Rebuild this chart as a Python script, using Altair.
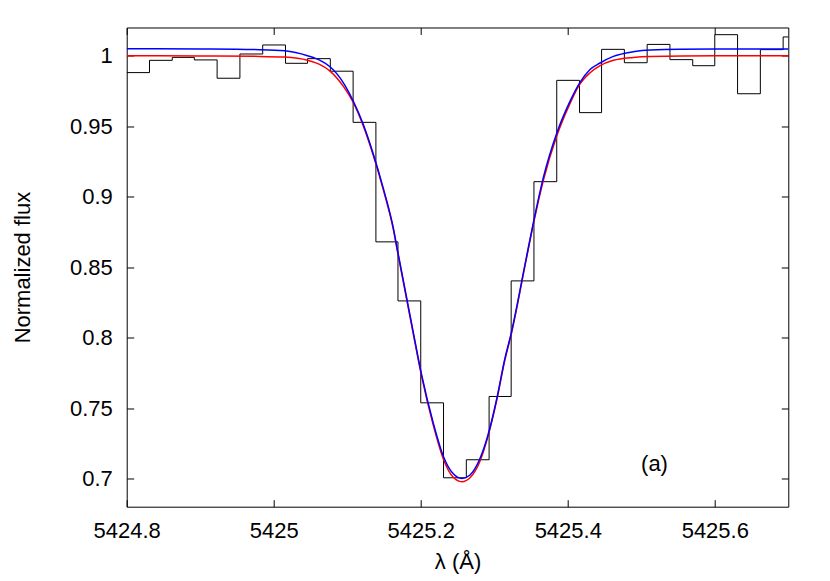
import altair as alt
import pandas as pd

# Observed spectrum: left edge of each pixel bin (Angstrom) and normalized flux
bin_start = [5424.800, 5424.831, 5424.862, 5424.892, 5424.923, 5424.954, 5424.985,
             5425.016, 5425.046, 5425.077, 5425.108, 5425.139, 5425.169, 5425.200,
             5425.231, 5425.262, 5425.293, 5425.323, 5425.354, 5425.385, 5425.416,
             5425.446, 5425.477, 5425.508, 5425.539, 5425.570, 5425.600, 5425.631,
             5425.662, 5425.693]
obs_flux = [0.988, 0.9967, 0.9988, 0.997, 0.984, 1.0012, 1.0076, 0.9946, 0.9979,
            0.989, 0.9527, 0.8679, 0.826, 0.7537, 0.7005, 0.7133, 0.7582, 0.8402,
            0.9106, 0.9825, 0.9596, 1.0045, 0.995, 1.008, 0.9972, 0.9929, 1.0149,
            0.973, 1.0043, 1.0133]

# Model profiles
model_wl = [5424.800, 5424.900, 5424.981, 5425.015, 5425.046, 5425.063, 5425.077,
            5425.095, 5425.108, 5425.122, 5425.135, 5425.149, 5425.163, 5425.168,
            5425.189, 5425.201, 5425.217, 5425.231, 5425.244, 5425.256, 5425.267,
            5425.280, 5425.291, 5425.304, 5425.314, 5425.323, 5425.343, 5425.353,
            5425.367, 5425.385, 5425.403, 5425.416, 5425.430, 5425.444, 5425.462,
            5425.489, 5425.512, 5425.600, 5425.700]
red_flux = [1.000, 0.9998, 0.9995, 0.999, 0.9967, 0.9936, 0.9889, 0.978, 0.967,
            0.950, 0.930, 0.905, 0.876, 0.862, 0.805, 0.773, 0.738, 0.7135, 0.701,
            0.6977, 0.7005, 0.7115, 0.729, 0.757, 0.783, 0.802, 0.854, 0.880, 0.912,
            0.943, 0.966, 0.9794, 0.9877, 0.9929, 0.9967, 0.9988, 0.9995, 1.000, 1.000]
blue_flux = [1.005, 1.0048, 1.0043, 1.0035, 1.000, 0.9967, 0.992, 0.9806, 0.968,
             0.951, 0.931, 0.906, 0.877, 0.863, 0.806, 0.774, 0.7395, 0.7155, 0.7035,
             0.700, 0.7025, 0.7135, 0.730, 0.758, 0.784, 0.803, 0.855, 0.881, 0.914,
             0.945, 0.9676, 0.9806, 0.990, 0.9948, 0.9995, 1.0028, 1.004, 1.0047, 1.0048]

x_ticks = [5424.8, 5425.0, 5425.2, 5425.4, 5425.6]
y_ticks = [0.7, 0.75, 0.8, 0.85, 0.9, 0.95, 1.0]
x_domain = [5424.8, 5425.7]
y_domain = [0.68, 1.02]

panel_label = "(a)"
panel_pos = (5425.518, 0.71)

FONT = "Liberation Sans"
W, H = 661.6, 479.2

# step table (step-after needs the closing edge of the last bin)
step_wl = bin_start + [bin_start[-1] + (bin_start[-1] - bin_start[-2])]
step_fl = obs_flux + [obs_flux[-1]]
df_obs = pd.DataFrame({"wl": step_wl, "flux": step_fl})
df_red = pd.DataFrame({"wl": model_wl, "flux": red_flux})
df_blue = pd.DataFrame({"wl": model_wl, "flux": blue_flux})
df_txt = pd.DataFrame({"wl": [panel_pos[0]], "flux": [panel_pos[1]], "t": [panel_label]})

xs = alt.Scale(domain=x_domain, nice=False, zero=False)
ys = alt.Scale(domain=y_domain, nice=False, zero=False)

common_axis = dict(offset=-7, tickSize=7, domain=False, grid=False, tickColor="black",
                   tickWidth=1, labelFont=FONT, labelFontSize=22, labelColor="black",
                   titleFont=FONT, titleFontSize=22, titleFontWeight="normal",
                   titleColor="black", labelFlush=False, labelOverlap=False)

x_bottom = alt.Axis(orient="bottom", values=x_ticks, format="~g", labelPadding=13.5,
                    title="λ (Å)", titlePadding=10, **common_axis)
y_left = alt.Axis(orient="left", values=y_ticks, format="~g", labelPadding=14.4,
                  title="Normalized flux", titlePadding=35, **common_axis)
x_top = alt.Axis(orient="top", values=x_ticks, labels=False, title=None, **common_axis)
y_right = alt.Axis(orient="right", values=y_ticks, labels=False, title=None, **common_axis)

obs = alt.Chart(df_obs).mark_line(interpolate="step-after", color="black",
                                  strokeWidth=1, clip=True).encode(
    x=alt.X("wl:Q", scale=xs, axis=x_bottom),
    y=alt.Y("flux:Q", scale=ys, axis=y_left),
)
red = alt.Chart(df_red).mark_line(interpolate="monotone", color="#ff0000",
                                  strokeWidth=1.5, clip=True).encode(
    x=alt.X("wl:Q", scale=xs, axis=x_top),
    y=alt.Y("flux:Q", scale=ys, axis=y_right),
)
blue = alt.Chart(df_blue).mark_line(interpolate="monotone", color="#0000ff",
                                    strokeWidth=1.5, clip=True).encode(
    x=alt.X("wl:Q", scale=xs, axis=None),
    y=alt.Y("flux:Q", scale=ys, axis=None),
)
txt = alt.Chart(df_txt).mark_text(font=FONT, fontSize=22, color="black",
                                  align="center", baseline="middle").encode(
    x=alt.X("wl:Q", scale=xs, axis=None),
    y=alt.Y("flux:Q", scale=ys, axis=None),
    text="t:N",
)

chart = alt.layer(obs, red, blue, txt).resolve_axis(
    x="independent", y="independent"
).properties(
    width=W, height=H,
    autosize=alt.AutoSizeParams(type="none"),
    padding={"left": 118.7, "top": 19.5, "right": 33, "bottom": 71},
    background="white",
).configure_view(stroke="black", strokeWidth=1)

chart.save("out.html", embed_options={"renderer": "svg", "actions": False})
